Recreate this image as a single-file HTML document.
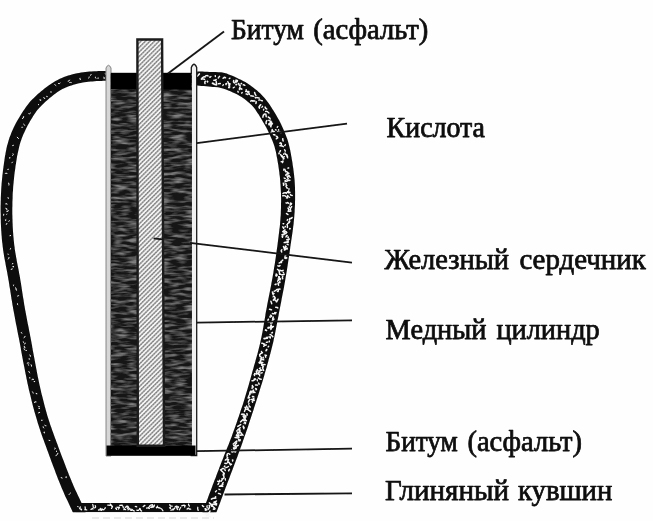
<!DOCTYPE html>
<html><head><meta charset="utf-8"><title>Багдадская батарейка</title>
<style>
html,body{margin:0;padding:0;background:#fff;}
body{width:653px;height:521px;overflow:hidden;}
svg{display:block;}
text{font-family:"Liberation Serif","DejaVu Serif",serif;font-size:28.8px;fill:#0a0a0a;stroke:#0a0a0a;stroke-width:0.75px;stroke-linejoin:round;}
</style></head>
<body>
<svg width="653" height="521" viewBox="0 0 653 521">
<defs>
<pattern id="dots" width="3.200" height="2.600" patternUnits="userSpaceOnUse" patternTransform="rotate(45)">
<rect width="3.200" height="2.600" fill="#f4f4f4"/>
<rect x="0" y="0" width="1.500" height="2.600" fill="#a4a4a4"/>
<rect x="0" y="0" width="1.500" height="1.300" fill="#7e7e7e"/>
</pattern>
<filter id="blur" x="-5%" y="-5%" width="110%" height="110%"><feGaussianBlur stdDeviation="0.55"/></filter>
<filter id="blurt" x="-5%" y="-20%" width="110%" height="140%"><feGaussianBlur stdDeviation="0.5"/></filter>
<filter id="blur2" x="-5%" y="-5%" width="110%" height="110%"><feGaussianBlur stdDeviation="0.7"/></filter>
<filter id="acidf" x="0" y="0" width="100%" height="100%" color-interpolation-filters="sRGB">
<feTurbulence type="fractalNoise" baseFrequency="0.07 0.33" numOctaves="2" seed="4" result="n"/>
<feColorMatrix in="n" type="matrix" values="0 0 0 0 0  0 0 0 0 0  0 0 0 0 0  2.6 0 0 0 -1.04" result="a"/>
<feFlood flood-color="#808080" result="f"/>
<feComposite in="f" in2="a" operator="in" result="streak"/>
<feGaussianBlur in="streak" stdDeviation="0.5" result="sb"/>
<feMerge><feMergeNode in="SourceGraphic"/><feMergeNode in="sb"/></feMerge>
</filter>
<clipPath id="jugclip"><rect x="0" y="0" width="653" height="512.200"/></clipPath>
</defs>
<rect width="653" height="521" fill="#fefefe"/>
<g filter="url(#blur)">
<!-- clay jug -->
<g clip-path="url(#jugclip)" fill="#0b0b0b">
<path d="M105.8,70.9 L104.6,70.9 L102.9,71.0 L100.9,71.1 L98.7,71.1 L96.3,71.2 L93.9,71.3 L91.6,71.5 L89.5,71.6 L87.4,71.8 L85.3,72.0 L83.2,72.3 L81.1,72.5 L79.0,72.9 L76.9,73.3 L74.8,73.7 L72.6,74.3 L70.4,74.9 L68.2,75.6 L66.1,76.3 L63.9,77.1 L61.8,77.9 L59.8,78.8 L57.6,79.9 L55.5,81.0 L53.5,82.2 L51.6,83.4 L49.7,84.7 L47.9,86.0 L46.2,87.2 L44.5,88.5 L42.8,89.9 L41.1,91.3 L39.5,92.7 L37.8,94.1 L36.3,95.6 L34.8,96.9 L33.5,98.2 L32.1,99.6 L30.6,101.1 L29.2,102.8 L27.7,104.7 L26.1,106.8 L25.0,108.4 L23.9,110.0 L22.7,111.8 L21.6,113.6 L20.4,115.6 L19.2,117.5 L18.0,119.5 L16.8,121.6 L15.7,123.6 L14.7,125.6 L13.7,127.6 L12.8,129.6 L11.9,131.5 L11.1,133.4 L10.4,135.4 L9.6,137.3 L8.9,139.4 L8.3,141.5 L7.7,143.7 L7.0,146.1 L6.4,148.7 L6.1,150.5 L5.7,152.3 L5.4,154.2 L5.0,156.1 L4.7,158.1 L4.4,160.2 L4.1,162.3 L3.8,164.4 L3.5,166.6 L3.2,168.7 L2.9,170.9 L2.7,173.0 L2.4,175.2 L2.2,177.3 L2.0,179.4 L1.8,181.5 L1.6,183.5 L1.5,185.5 L1.3,187.6 L1.2,189.6 L1.1,191.7 L1.0,193.7 L0.9,195.7 L0.8,197.8 L0.8,199.8 L0.7,201.9 L0.7,203.9 L0.6,205.9 L0.6,208.0 L0.6,210.0 L0.6,212.0 L0.7,214.1 L0.7,216.1 L0.7,218.1 L0.8,220.2 L0.8,222.2 L0.9,224.2 L1.0,226.3 L1.1,228.3 L1.2,230.4 L1.4,232.4 L1.5,234.4 L1.7,236.5 L1.8,238.5 L2.0,240.6 L2.2,242.6 L2.5,244.6 L2.7,246.7 L3.0,248.8 L3.2,250.8 L3.6,252.9 L3.9,255.0 L4.2,257.0 L4.6,259.0 L5.0,261.1 L5.4,263.1 L5.7,265.1 L6.1,267.1 L6.5,269.1 L6.9,271.1 L7.3,273.1 L7.6,275.1 L8.0,277.0 L8.3,279.0 L8.7,281.0 L9.0,282.9 L9.3,284.9 L9.6,286.9 L10.0,288.9 L10.3,290.9 L10.6,292.9 L10.9,294.9 L11.2,296.9 L11.5,298.9 L11.9,300.9 L12.2,302.9 L12.5,305.0 L12.9,307.0 L13.2,309.0 L13.6,311.0 L14.0,313.1 L14.4,315.2 L14.8,317.3 L15.2,319.5 L15.6,321.7 L16.0,323.9 L16.5,326.1 L16.9,328.3 L17.3,330.4 L17.7,332.5 L18.1,334.5 L18.5,336.4 L18.9,338.2 L19.2,340.0 L19.5,341.6 L19.8,343.1 L20.3,345.8 L20.7,347.8 L20.9,349.3 L21.1,350.6 L21.4,352.2 L21.8,354.3 L22.3,357.1 L22.6,358.6 L22.9,360.2 L23.2,362.0 L23.6,363.8 L24.0,365.7 L24.4,367.8 L24.8,369.8 L25.2,372.0 L25.6,374.1 L26.1,376.3 L26.5,378.5 L27.0,380.7 L27.4,382.9 L27.9,385.1 L28.4,387.2 L28.8,389.3 L29.3,391.3 L29.8,393.3 L30.3,395.3 L30.8,397.3 L31.3,399.4 L31.8,401.4 L32.3,403.4 L32.8,405.4 L33.3,407.4 L33.9,409.5 L34.4,411.5 L35.0,413.5 L35.6,415.6 L36.2,417.6 L36.8,419.6 L37.4,421.7 L38.0,423.7 L38.7,425.8 L39.3,427.8 L40.0,429.8 L40.7,431.9 L41.4,433.9 L42.1,435.9 L42.8,437.9 L43.6,440.0 L44.3,442.0 L45.0,444.0 L45.8,446.0 L46.5,448.0 L47.2,450.0 L48.0,452.0 L48.7,454.0 L49.4,455.9 L50.1,457.8 L50.8,459.8 L51.5,461.7 L52.3,463.7 L53.0,465.7 L53.7,467.6 L54.5,469.6 L55.2,471.6 L55.9,473.5 L56.7,475.4 L57.4,477.3 L58.1,479.2 L58.9,481.0 L59.6,482.8 L60.3,484.6 L61.0,486.3 L61.9,488.5 L62.8,490.6 L63.8,492.8 L64.7,494.9 L65.6,496.9 L66.6,498.9 L67.5,500.8 L68.3,502.6 L69.1,504.3 L69.9,506.0 L70.6,507.5 L71.2,508.8 L71.8,510.0 L73.2,513.3 L74.0,515.4 L74.5,516.9 L75.0,518.0 L86.0,514.0 L85.6,512.8 L85.0,511.2 L84.1,508.8 L82.6,505.4 L82.0,504.0 L81.3,502.5 L80.6,500.9 L79.8,499.3 L79.0,497.6 L78.1,495.8 L77.3,493.9 L76.4,491.9 L75.4,490.0 L74.5,487.9 L73.6,485.9 L72.7,483.8 L71.8,481.7 L71.2,480.1 L70.5,478.4 L69.8,476.7 L69.0,474.9 L68.3,473.1 L67.6,471.2 L66.8,469.3 L66.1,467.4 L65.4,465.5 L64.6,463.5 L63.9,461.6 L63.1,459.6 L62.4,457.7 L61.6,455.7 L60.9,453.8 L60.2,451.9 L59.5,450.0 L58.7,448.0 L58.0,446.0 L57.3,444.0 L56.5,442.0 L55.8,440.0 L55.0,438.0 L54.3,436.0 L53.6,434.1 L52.9,432.1 L52.1,430.1 L51.5,428.1 L50.8,426.2 L50.1,424.2 L49.5,422.2 L48.8,420.3 L48.2,418.3 L47.6,416.4 L47.0,414.4 L46.5,412.4 L45.9,410.5 L45.4,408.5 L44.8,406.5 L44.3,404.6 L43.8,402.6 L43.3,400.6 L42.8,398.6 L42.3,396.6 L41.8,394.7 L41.3,392.7 L40.9,390.7 L40.4,388.7 L40.0,386.7 L39.5,384.7 L39.1,382.7 L38.6,380.6 L38.2,378.4 L37.7,376.3 L37.3,374.1 L36.9,371.9 L36.5,369.8 L36.1,367.7 L35.7,365.6 L35.3,363.6 L35.0,361.7 L34.6,359.8 L34.3,358.1 L34.0,356.4 L33.7,354.9 L33.2,352.2 L32.8,350.2 L32.6,348.7 L32.3,347.4 L32.1,345.8 L31.7,343.7 L31.2,340.9 L30.9,339.4 L30.6,337.7 L30.2,336.0 L29.9,334.1 L29.5,332.2 L29.1,330.2 L28.7,328.1 L28.3,326.0 L27.8,323.8 L27.4,321.7 L27.0,319.5 L26.6,317.3 L26.2,315.2 L25.8,313.1 L25.4,311.0 L25.0,309.0 L24.7,307.0 L24.3,305.0 L24.0,303.0 L23.7,301.1 L23.4,299.1 L23.0,297.1 L22.7,295.1 L22.4,293.1 L22.1,291.1 L21.8,289.1 L21.5,287.1 L21.2,285.1 L20.9,283.1 L20.5,281.1 L20.2,279.0 L19.9,277.0 L19.5,275.0 L19.1,272.9 L18.8,270.9 L18.4,268.9 L18.0,266.9 L17.6,264.9 L17.2,262.9 L16.8,260.9 L16.5,258.9 L16.1,257.0 L15.8,255.0 L15.4,253.0 L15.1,251.1 L14.8,249.2 L14.6,247.2 L14.3,245.3 L14.1,243.4 L13.9,241.4 L13.7,239.4 L13.5,237.5 L13.3,235.5 L13.2,233.6 L13.0,231.6 L12.9,229.6 L12.8,227.7 L12.7,225.7 L12.6,223.8 L12.5,221.8 L12.5,219.8 L12.4,217.9 L12.4,215.9 L12.3,213.9 L12.3,212.0 L12.3,210.0 L12.3,208.0 L12.4,206.1 L12.4,204.1 L12.4,202.1 L12.5,200.2 L12.6,198.2 L12.6,196.3 L12.7,194.3 L12.8,192.3 L13.0,190.4 L13.1,188.4 L13.2,186.5 L13.4,184.5 L13.6,182.5 L13.8,180.6 L14.0,178.5 L14.2,176.5 L14.4,174.4 L14.7,172.3 L15.0,170.2 L15.3,168.2 L15.5,166.1 L15.9,164.0 L16.2,162.0 L16.5,160.1 L16.8,158.2 L17.1,156.3 L17.5,154.6 L17.8,152.9 L18.2,151.3 L18.7,148.9 L19.2,146.7 L19.7,144.7 L20.2,142.9 L20.8,141.2 L21.4,139.5 L22.0,137.8 L22.7,136.1 L23.4,134.3 L24.3,132.4 L25.1,130.7 L25.9,128.9 L26.9,127.0 L27.9,125.1 L29.0,123.2 L30.0,121.3 L31.1,119.5 L32.2,117.8 L33.2,116.1 L34.2,114.5 L35.1,113.2 L36.4,111.3 L37.6,109.7 L38.8,108.4 L39.9,107.2 L41.1,106.0 L42.3,104.8 L43.7,103.4 L45.1,102.1 L46.6,100.7 L48.1,99.4 L49.6,98.1 L51.1,96.9 L52.6,95.7 L54.1,94.6 L55.9,93.3 L57.5,92.1 L59.1,91.1 L60.7,90.1 L62.4,89.1 L64.2,88.2 L65.9,87.5 L67.6,86.7 L69.5,86.0 L71.4,85.4 L73.4,84.7 L75.3,84.2 L77.2,83.7 L79.0,83.2 L80.8,82.9 L82.7,82.5 L84.5,82.3 L86.4,82.0 L88.4,81.8 L90.5,81.6 L92.4,81.4 L94.5,81.3 L96.8,81.1 L99.1,81.0 L101.3,80.9 L103.3,80.8 L104.9,80.8 L106.2,80.7Z"/>
<path d="M196.4,85.5 L197.7,85.6 L199.4,85.8 L201.5,86.0 L203.8,86.1 L206.2,86.3 L208.6,86.5 L210.8,86.7 L212.8,86.9 L214.6,87.1 L217.8,87.3 L219.2,87.4 L220.8,87.9 L222.0,88.2 L223.6,88.7 L225.3,89.3 L227.1,90.0 L229.0,90.8 L230.9,91.6 L232.8,92.5 L234.7,93.3 L236.4,94.1 L238.1,95.0 L239.8,95.9 L241.6,97.0 L243.0,98.0 L244.5,99.1 L246.0,100.3 L247.5,101.5 L249.0,102.7 L250.4,104.0 L251.8,105.3 L253.1,106.7 L254.2,108.1 L255.3,109.6 L256.4,111.2 L257.5,112.9 L258.7,114.6 L259.8,116.4 L260.9,118.2 L261.9,120.0 L262.9,121.8 L264.0,123.6 L265.1,125.4 L266.0,127.1 L266.9,128.8 L267.8,130.5 L268.6,132.2 L269.5,134.0 L270.3,135.9 L271.1,137.8 L271.9,139.6 L272.6,141.3 L273.3,142.9 L273.9,144.7 L274.5,146.6 L275.1,148.9 L275.8,151.6 L276.1,153.0 L276.4,154.7 L276.7,156.4 L277.1,158.2 L277.4,160.1 L277.7,162.1 L278.1,164.1 L278.4,166.1 L278.7,168.2 L279.0,170.3 L279.3,172.4 L279.5,174.5 L279.8,176.6 L280.0,178.6 L280.2,180.6 L280.3,182.5 L280.5,184.5 L280.6,186.4 L280.7,188.3 L280.8,190.3 L280.9,192.2 L281.0,194.1 L281.0,196.1 L281.1,198.0 L281.1,199.9 L281.1,201.9 L281.0,203.8 L281.0,205.8 L281.0,207.7 L280.9,209.7 L280.8,211.7 L280.8,213.6 L280.7,215.5 L280.5,217.5 L280.4,219.4 L280.2,221.3 L280.1,223.3 L279.9,225.2 L279.7,227.2 L279.4,229.2 L279.2,231.1 L279.0,233.1 L278.7,235.1 L278.5,237.1 L278.2,239.1 L278.0,241.1 L277.7,243.1 L277.5,245.1 L277.2,247.1 L276.9,249.1 L276.6,251.1 L276.4,253.1 L276.1,255.1 L275.8,257.0 L275.5,259.0 L275.2,261.0 L274.9,263.0 L274.6,265.0 L274.2,267.0 L273.9,269.0 L273.6,270.9 L273.3,272.9 L272.9,274.9 L272.6,276.9 L272.2,278.9 L271.9,280.8 L271.5,282.8 L271.2,284.8 L270.8,286.8 L270.4,288.8 L270.0,290.8 L269.6,292.7 L269.2,294.7 L268.8,296.7 L268.4,298.7 L268.0,300.7 L267.6,302.7 L267.2,304.8 L266.9,306.8 L266.5,308.8 L266.1,310.8 L265.7,312.8 L265.4,314.8 L265.1,316.9 L264.7,318.9 L264.4,320.9 L264.0,322.9 L263.7,324.9 L263.4,326.8 L263.0,328.8 L262.7,330.8 L262.3,332.8 L261.9,334.7 L261.5,336.7 L261.1,338.6 L260.7,340.6 L260.3,342.6 L259.8,344.5 L259.3,346.5 L258.8,348.5 L258.3,350.4 L257.8,352.4 L257.3,354.4 L256.7,356.4 L256.2,358.3 L255.6,360.3 L255.1,362.3 L254.5,364.3 L253.9,366.3 L253.4,368.3 L252.8,370.3 L252.2,372.3 L251.7,374.3 L251.1,376.3 L250.6,378.3 L250.0,380.3 L249.4,382.3 L248.9,384.3 L248.3,386.3 L247.7,388.2 L247.1,390.2 L246.5,392.2 L245.9,394.2 L245.3,396.2 L244.7,398.2 L244.1,400.2 L243.5,402.2 L242.9,404.2 L242.2,406.2 L241.5,408.2 L240.8,410.3 L240.1,412.4 L239.4,414.5 L238.7,416.7 L237.9,418.8 L237.2,420.9 L236.5,422.9 L235.8,425.0 L235.1,427.0 L234.4,428.9 L233.7,430.8 L233.1,432.6 L232.4,434.3 L231.9,436.0 L231.0,438.3 L230.2,440.3 L229.5,442.1 L228.9,443.7 L228.3,445.2 L227.6,446.8 L226.9,448.5 L226.2,450.3 L225.4,452.3 L224.4,454.7 L223.8,456.3 L223.2,458.0 L222.5,459.8 L221.7,461.6 L221.0,463.6 L220.2,465.6 L219.4,467.6 L218.6,469.7 L217.8,471.8 L217.0,473.8 L216.2,475.9 L215.5,477.9 L214.7,479.8 L214.0,481.7 L213.3,483.5 L212.7,485.1 L212.1,486.7 L211.1,489.4 L210.1,491.9 L209.2,494.2 L208.4,496.4 L207.7,498.4 L207.0,500.3 L206.3,502.0 L205.7,503.7 L205.2,505.2 L204.0,508.2 L203.1,510.6 L202.5,512.4 L202.0,513.7 L214.2,518.3 L214.7,517.0 L215.4,515.2 L216.3,512.8 L217.4,509.8 L218.0,508.2 L218.6,506.6 L219.3,504.8 L220.0,503.0 L220.7,501.0 L221.5,498.8 L222.4,496.5 L223.3,494.0 L224.3,491.3 L224.9,489.8 L225.5,488.1 L226.2,486.3 L226.9,484.4 L227.6,482.5 L228.4,480.5 L229.2,478.5 L229.9,476.4 L230.7,474.3 L231.5,472.2 L232.3,470.2 L233.0,468.2 L233.8,466.2 L234.5,464.3 L235.2,462.5 L235.8,460.8 L236.4,459.3 L237.3,456.9 L238.0,454.9 L238.7,453.0 L239.3,451.4 L239.9,449.8 L240.5,448.1 L241.1,446.4 L241.8,444.6 L242.5,442.4 L243.3,440.0 L243.9,438.4 L244.5,436.6 L245.2,434.8 L245.8,432.9 L246.5,430.9 L247.2,428.9 L247.9,426.9 L248.6,424.8 L249.3,422.6 L250.0,420.5 L250.7,418.3 L251.4,416.2 L252.1,414.1 L252.8,411.9 L253.5,409.9 L254.1,407.8 L254.8,405.8 L255.4,403.8 L256.1,401.8 L256.7,399.8 L257.4,397.8 L258.0,395.8 L258.7,393.8 L259.3,391.8 L259.9,389.7 L260.5,387.7 L261.1,385.7 L261.8,383.7 L262.4,381.7 L263.0,379.7 L263.6,377.7 L264.2,375.7 L264.7,373.7 L265.3,371.7 L265.9,369.7 L266.5,367.7 L267.0,365.7 L267.6,363.7 L268.2,361.7 L268.7,359.6 L269.3,357.6 L269.8,355.6 L270.4,353.6 L270.9,351.5 L271.4,349.5 L271.9,347.5 L272.4,345.4 L272.9,343.4 L273.4,341.4 L273.8,339.3 L274.3,337.3 L274.7,335.2 L275.1,333.2 L275.5,331.2 L275.9,329.2 L276.3,327.1 L276.7,325.1 L277.1,323.1 L277.4,321.1 L277.8,319.1 L278.2,317.2 L278.6,315.2 L278.9,313.2 L279.3,311.2 L279.7,309.2 L280.1,307.2 L280.5,305.3 L280.9,303.3 L281.3,301.3 L281.6,299.3 L282.0,297.3 L282.4,295.3 L282.8,293.2 L283.2,291.2 L283.6,289.2 L284.0,287.2 L284.3,285.2 L284.7,283.2 L285.1,281.1 L285.4,279.1 L285.7,277.1 L286.1,275.1 L286.4,273.1 L286.8,271.0 L287.1,269.0 L287.4,267.0 L287.7,265.0 L288.0,263.0 L288.3,261.0 L288.6,259.0 L288.9,256.9 L289.2,254.9 L289.5,252.9 L289.8,250.9 L290.1,248.9 L290.3,246.9 L290.6,244.9 L290.9,242.9 L291.2,240.9 L291.5,238.9 L291.8,236.9 L292.1,234.9 L292.4,232.9 L292.7,230.8 L293.0,228.8 L293.2,226.8 L293.5,224.7 L293.7,222.7 L293.9,220.6 L294.1,218.5 L294.3,216.5 L294.4,214.4 L294.6,212.3 L294.7,210.3 L294.8,208.3 L294.9,206.2 L295.0,204.2 L295.0,202.1 L295.1,200.1 L295.1,198.0 L295.1,195.9 L295.1,193.9 L295.1,191.8 L295.0,189.7 L295.0,187.7 L294.9,185.6 L294.8,183.5 L294.7,181.5 L294.5,179.3 L294.3,177.2 L294.1,175.0 L293.8,172.8 L293.5,170.6 L293.3,168.4 L292.9,166.2 L292.6,164.0 L292.3,161.8 L291.9,159.7 L291.6,157.7 L291.2,155.7 L290.9,153.7 L290.5,151.9 L290.2,150.1 L289.8,148.4 L289.1,145.4 L288.4,142.7 L287.7,140.2 L286.9,137.9 L286.1,135.9 L285.3,133.9 L284.5,132.1 L283.7,130.1 L282.8,128.1 L281.9,126.0 L281.0,124.0 L280.0,122.1 L279.0,120.1 L277.9,118.2 L276.8,116.2 L275.7,114.2 L274.6,112.4 L273.4,110.6 L272.2,108.7 L271.0,106.7 L269.7,104.8 L268.3,102.8 L266.9,100.9 L265.4,99.0 L263.9,97.3 L262.2,95.4 L260.4,93.6 L258.6,91.9 L256.8,90.3 L255.0,88.9 L253.2,87.5 L251.5,86.2 L249.8,85.0 L247.6,83.4 L245.3,82.1 L243.1,80.9 L241.0,79.8 L239.0,78.9 L237.1,78.0 L235.1,77.0 L233.0,76.1 L230.9,75.2 L228.8,74.4 L226.7,73.6 L224.6,72.9 L221.3,72.3 L218.6,72.2 L215.4,72.1 L213.8,72.1 L211.8,72.0 L209.5,71.9 L207.1,71.8 L204.6,71.7 L202.3,71.6 L200.2,71.6 L198.5,71.5 L197.2,71.5Z"/>
<rect x="76" y="503" width="138" height="9.200"/>
</g>
<g fill="none" stroke="#f6f6f6" stroke-linecap="round">
<path d="M105.4,73.7Q105.9,74.2 106.5,74.9M103.8,77.0Q104.7,76.6 104.2,78.7M98.5,78.0Q97.5,77.4 97.1,78.3M95.4,76.8Q94.8,76.7 95.5,78.0M91.1,74.4Q90.0,76.3 90.6,75.7M89.5,76.8Q90.1,77.2 88.5,78.1M79.9,78.2Q79.3,79.1 80.4,79.8M71.3,82.5Q70.7,82.2 69.7,82.5M69.6,80.1Q68.9,81.7 68.1,81.4M60.2,83.0Q60.0,84.1 58.5,83.6M54.8,84.7Q55.4,85.1 55.9,85.5M51.1,91.6Q52.0,92.7 50.9,92.4M47.2,96.3Q46.3,95.5 46.8,96.8M43.6,97.7Q43.6,98.6 44.8,98.4M39.9,99.6Q39.4,101.0 40.9,100.3M38.7,104.3Q37.5,105.1 38.2,104.9M30.5,113.1Q29.1,114.5 28.7,113.9M23.9,116.8Q24.8,117.1 23.3,117.1M23.7,117.1Q23.1,117.6 22.5,118.7M23.8,124.1Q24.3,124.3 24.7,125.3M22.9,127.2Q23.1,126.8 21.8,127.2M17.2,137.2Q18.6,138.1 18.6,138.4M12.7,145.3Q12.0,146.3 13.4,145.4M13.1,153.7Q14.0,154.5 12.7,155.5M9.4,157.8Q10.7,156.8 10.0,158.1M12.5,162.1Q11.2,163.5 11.9,162.8M7.8,169.3Q9.4,168.8 8.5,169.4M7.0,173.3Q5.0,172.7 5.0,173.5M8.7,183.1Q9.3,184.5 9.0,185.1M8.3,197.7Q7.1,197.0 8.2,198.4M5.7,203.8Q7.7,203.2 7.3,204.2M5.8,208.2Q7.4,208.1 7.0,209.8M8.4,210.5Q8.7,211.9 6.8,211.5M7.2,213.7Q7.3,213.4 6.7,214.3M3.8,214.2Q3.8,216.0 3.6,215.9M5.9,219.4Q4.6,219.6 5.6,220.6M9.4,220.7Q8.7,220.7 8.5,221.2M6.9,223.4Q6.4,224.5 6.3,224.6M10.7,235.5Q9.2,236.5 9.5,236.0M10.5,248.3Q11.1,247.6 10.3,249.2M8.6,254.2Q9.1,254.6 7.9,254.2M9.1,257.5Q9.2,258.2 8.3,259.1M12.9,263.7Q13.7,262.8 12.2,263.9M13.6,266.4Q12.0,266.0 13.0,267.1M12.3,268.8Q10.9,268.6 11.1,269.5M13.7,285.0Q13.5,286.5 13.1,285.6M15.3,287.4Q15.7,287.6 16.1,288.6M16.0,289.4Q16.1,290.7 16.7,290.4M19.0,295.5Q19.2,295.8 17.6,296.1M17.3,303.5Q16.3,303.8 17.8,304.7M21.6,332.1Q20.5,332.7 21.7,333.4M25.1,336.3Q24.3,337.6 24.0,337.9M23.3,341.8Q23.6,343.0 23.8,343.0M25.5,343.2Q24.3,344.0 24.2,344.1M24.2,346.3Q23.9,348.3 25.1,347.9M24.0,348.8Q24.2,350.1 24.8,350.0M26.6,350.5Q26.1,351.6 25.8,350.6M29.8,354.9Q30.8,354.9 30.5,356.3M28.6,358.8Q28.4,357.9 29.8,359.2M29.0,362.9Q28.4,362.5 27.2,363.1M28.4,364.5Q28.5,364.6 28.6,365.2M31.3,364.5Q31.6,364.6 31.5,366.2M28.8,371.5Q29.0,372.5 29.8,373.0M29.5,377.7Q30.2,376.7 30.0,378.0M33.6,379.3Q31.6,378.4 31.9,379.8M33.9,381.4Q33.1,381.8 34.7,381.6M32.5,391.8Q33.1,392.6 33.2,393.1M36.1,393.3Q37.6,393.4 37.1,394.0M36.1,401.8Q34.2,401.1 34.5,402.6M38.2,406.2Q38.5,407.0 39.3,406.7M39.6,408.2Q38.2,407.2 39.0,408.6M39.7,412.3Q38.4,412.5 38.1,413.1M42.6,420.2Q42.5,421.1 41.4,420.3M44.7,425.4Q45.0,425.8 46.0,425.8M42.9,426.7Q42.7,427.0 43.7,428.0M44.1,432.0Q43.3,433.7 44.7,432.9M50.4,440.4Q50.4,440.9 49.0,440.4M55.1,447.6Q56.0,447.6 54.8,449.1M55.9,450.7Q55.3,450.6 56.8,451.7M57.9,453.2Q56.7,454.9 57.1,454.8M56.8,454.8Q55.7,456.6 55.7,456.2M61.1,477.5Q61.1,478.3 62.1,478.2M66.6,476.9Q66.8,478.3 65.6,477.3M70.4,493.0Q69.9,493.4 69.1,494.5M77.2,506.7Q76.9,506.1 78.3,506.7" stroke-width="1"/>
<path d="M199.4,73.9Q198.7,74.6 197.2,76.3M202.6,77.4Q203.2,79.4 201.3,79.0M203.7,76.9Q204.2,76.5 205.0,77.0M205.5,81.2Q204.5,81.2 205.0,83.6M208.0,75.9Q207.3,75.1 205.6,75.9M212.4,83.1Q214.6,84.5 215.5,84.8M216.1,79.6Q215.0,80.7 213.8,80.2M216.2,81.6Q216.6,84.3 216.6,84.9M219.5,76.4Q218.1,78.2 218.4,78.0M220.3,83.6Q219.9,83.7 218.4,83.8M225.5,77.7Q224.6,76.9 223.1,78.2M226.6,83.5Q225.7,83.3 226.0,84.6M227.8,81.7Q228.2,83.8 230.2,84.0M229.0,84.4Q228.4,85.4 229.6,85.5M229.8,86.9Q228.1,86.7 229.0,87.8M233.7,80.4Q233.0,83.0 234.7,83.0M236.1,80.0Q236.4,79.9 235.4,81.9M237.5,80.5Q237.3,82.3 235.8,82.1M238.7,83.4Q238.5,84.5 240.3,85.8M239.9,87.3Q238.9,89.6 239.8,89.5M239.6,89.0Q240.8,88.1 241.8,89.1M243.3,84.8Q244.4,85.1 244.8,85.3M246.2,89.7Q246.3,91.4 245.7,91.5M246.4,91.5Q246.4,91.3 248.9,91.6M246.1,94.0Q246.1,93.6 247.7,94.5M248.1,92.5Q249.1,92.7 249.4,94.4M250.8,95.8Q251.9,96.0 253.4,96.2M254.6,92.5Q255.3,95.0 255.9,95.3M250.7,101.1Q252.3,100.1 252.8,101.2M252.0,100.8Q253.3,100.7 254.8,101.0M256.7,97.5Q257.4,97.4 259.3,98.1M256.3,101.8Q255.9,102.6 255.9,103.5M260.9,100.4Q262.5,101.0 262.3,100.8M260.8,104.7Q259.8,105.5 258.9,107.1M259.5,106.5Q259.4,108.6 259.4,108.3M265.1,107.1Q265.7,108.5 266.7,108.9M265.7,111.4Q267.1,111.1 268.9,113.0M264.5,114.0Q262.8,115.0 262.9,117.2M265.7,114.0Q266.0,114.4 266.2,116.8M268.2,117.0Q270.2,118.0 270.2,119.1M266.9,120.6Q265.7,122.0 266.2,123.6M268.8,120.4Q270.2,121.2 271.6,122.2M270.9,121.3Q269.8,123.9 268.8,124.1M271.1,122.8Q271.0,123.0 269.1,124.7M272.4,123.6Q270.4,125.1 270.9,126.8M272.2,129.4Q272.8,131.8 271.2,132.2M271.9,130.3Q273.8,131.5 274.4,132.1M274.0,131.4Q273.5,131.5 273.4,132.8M277.7,131.6Q278.1,131.9 281.1,132.4M276.4,136.4Q277.1,135.9 277.8,137.9M277.4,137.7Q277.6,138.0 276.3,138.8M282.9,138.8Q282.5,138.6 283.1,140.9M280.7,142.9Q281.9,143.4 281.1,145.0M279.9,145.8Q282.4,145.7 283.2,146.6M280.4,150.7Q279.8,151.5 279.8,152.0M285.0,153.0Q285.3,154.9 286.8,154.5M280.7,154.6Q280.6,154.5 281.6,156.5M286.1,154.6Q287.8,156.6 287.5,156.4M282.1,155.7Q281.9,156.5 283.9,158.6M282.4,157.2Q283.6,157.5 283.3,159.1M283.0,161.0Q283.2,161.4 281.2,161.7M284.7,169.3Q285.0,169.7 285.8,171.8M285.3,171.6Q287.9,171.6 288.1,173.5M288.9,173.2Q288.9,174.2 287.0,173.8M287.2,174.3Q286.1,174.2 285.7,175.2M287.0,176.2Q287.7,175.9 290.2,177.2M287.4,177.0Q287.2,177.2 288.2,178.6M286.9,179.6Q287.5,180.8 289.9,180.2M285.1,180.4Q285.9,180.8 285.0,181.9M283.3,183.2Q283.7,183.8 283.5,185.3M287.5,191.8Q287.7,193.3 290.0,192.2M285.7,192.7Q283.3,192.6 283.0,193.5M290.5,194.4Q290.4,195.4 292.2,195.5M282.8,195.8Q285.2,195.4 285.5,196.2M287.6,196.2Q286.4,196.2 287.6,197.8M287.4,202.7Q287.1,202.3 288.8,203.3M290.7,203.1Q291.2,205.1 289.9,205.0M291.7,206.7Q290.3,207.8 290.4,209.6M288.0,208.0Q289.2,209.8 288.7,210.1M291.0,211.0Q288.8,211.6 288.0,211.1M286.5,213.5Q287.4,214.4 287.9,214.5M292.1,217.5Q291.7,218.5 289.6,219.1M289.9,218.5Q289.7,218.4 289.3,219.9M289.2,222.7Q289.0,222.6 287.7,223.6M287.0,224.6Q287.6,225.1 287.4,227.5M282.8,226.9Q283.3,227.3 283.6,228.4M285.0,229.8Q283.8,230.6 282.8,231.6M285.3,231.5Q285.9,231.2 286.8,232.5M284.3,232.4Q285.4,233.9 286.0,233.4M286.0,233.4Q285.2,233.4 283.4,234.4M282.0,234.6Q283.9,233.9 283.9,234.7M287.2,235.5Q286.2,236.0 286.0,236.9M282.8,236.1Q281.7,235.8 282.5,237.3M289.3,239.1Q288.4,239.4 286.8,239.8M287.6,241.8Q285.1,242.7 284.2,242.6M286.1,246.7Q284.9,247.6 285.5,247.9M283.5,246.4Q284.0,247.8 284.7,249.7M286.5,248.6Q284.4,250.4 284.4,249.9M281.8,249.7Q280.7,250.8 281.7,251.9M284.7,257.0Q284.8,257.0 286.8,258.0M281.5,261.3Q281.0,261.0 280.8,262.5M281.5,262.6Q279.9,262.4 279.2,263.0M280.0,265.5Q279.3,266.5 277.9,265.9M279.9,270.1Q281.9,271.5 283.1,270.2M279.3,271.6Q279.3,273.7 279.8,274.3M284.2,274.4Q283.8,275.0 281.6,274.7M276.2,274.1Q277.4,275.5 277.1,275.0M276.7,274.8Q275.3,274.8 276.2,276.2M282.7,276.5Q282.1,278.0 282.7,278.7M278.5,276.8Q280.0,277.0 279.2,279.2M280.2,279.0Q279.3,279.1 278.1,279.1M280.5,279.1Q279.5,279.2 277.7,281.1M279.7,281.7Q280.6,282.5 279.0,282.7M278.1,283.0Q277.7,283.3 278.6,285.2M280.0,289.1Q278.5,289.4 276.8,289.4M276.0,290.2Q275.0,291.1 274.2,291.2M272.4,291.9Q272.8,294.4 273.2,294.8M274.4,296.5Q275.7,299.1 274.7,299.2M275.1,297.6Q273.9,299.6 273.3,300.1M278.0,299.2Q277.1,300.5 276.7,301.7M270.9,301.2Q271.7,303.2 271.7,303.7M275.7,307.2Q277.9,307.3 277.8,308.0M269.5,309.3Q270.8,309.3 271.5,309.8M274.8,312.5Q275.4,313.1 276.0,312.6M274.7,312.9Q274.8,314.2 272.4,313.6M270.5,315.2Q271.9,316.0 271.5,316.5M273.3,317.1Q272.3,319.2 272.7,319.4M273.9,319.1Q272.2,320.5 271.9,321.5M268.4,319.2Q267.5,320.3 268.3,321.9M271.0,321.7Q272.2,323.3 272.3,322.6M270.6,326.4Q270.9,327.1 273.4,326.4M272.9,326.9Q270.7,328.4 271.1,327.9M268.1,327.5Q270.3,327.1 270.2,328.3M265.4,330.1Q265.9,329.3 266.6,330.7M270.1,334.6Q271.3,334.7 272.8,336.7M269.6,336.9Q270.6,336.5 270.2,338.0M268.0,337.0Q267.3,338.7 265.8,338.6M264.1,338.2Q263.7,339.1 265.3,338.6M261.9,343.3Q263.3,342.9 264.3,345.0M266.3,345.0Q265.6,344.7 263.7,346.3M266.5,349.5Q267.4,349.1 266.0,350.7M261.5,351.4Q262.1,353.1 262.4,352.7M261.9,353.0Q260.2,353.4 259.9,354.7M265.1,355.0Q265.8,357.0 265.7,357.2M259.7,354.6Q259.6,357.0 261.0,357.0M261.1,357.1Q262.1,357.4 261.7,359.2M260.4,358.9Q262.9,360.0 263.7,359.8M261.8,359.1Q261.1,359.7 260.2,361.2M260.8,362.1Q261.1,362.0 262.8,362.8M259.8,362.1Q261.0,362.8 261.9,364.3M265.0,364.6Q264.1,364.1 261.6,365.3M263.0,365.1Q261.9,365.8 263.4,366.9M262.5,367.6Q262.6,368.2 263.6,370.5M260.4,369.0Q261.1,370.4 261.8,370.2M260.9,369.7Q260.5,371.5 258.8,370.8M257.3,369.6Q257.2,370.7 256.9,371.5M262.1,372.7Q262.5,372.7 260.9,373.0M256.2,371.2Q256.7,371.5 256.4,373.6M257.7,373.4Q256.0,374.7 254.7,373.5M258.4,378.0Q259.8,379.3 261.2,379.3M254.9,378.7Q255.8,379.4 254.6,379.9M254.3,379.0Q254.2,381.0 252.0,380.8M255.5,385.0Q256.8,384.8 257.4,385.1M252.4,385.4Q252.2,387.3 253.2,386.8M255.6,388.5Q257.1,389.0 256.1,389.7M253.3,391.1Q253.8,392.3 255.0,392.5M252.0,391.2Q250.7,392.8 251.1,392.9M250.9,391.1Q249.2,392.4 250.0,394.5M249.3,394.9Q248.9,395.4 248.1,398.0M254.0,398.1Q253.4,399.8 251.4,399.5M252.5,400.0Q253.6,401.2 254.3,400.1M249.8,399.6Q248.9,400.2 248.4,402.1M249.1,405.8Q249.0,406.8 250.4,407.0M246.2,407.1Q245.8,407.6 245.0,407.3M245.1,407.6Q245.5,409.3 247.8,409.6M248.5,410.0Q248.7,410.1 250.5,411.4M245.6,409.2Q244.5,411.1 244.5,411.5M246.9,413.7Q247.4,414.7 247.0,415.1M244.2,414.2Q242.6,414.6 241.5,414.2M243.9,415.1Q245.3,415.1 246.0,417.0M243.2,416.4Q243.4,416.6 245.2,417.5M245.3,419.0Q244.9,420.0 246.4,420.6M245.4,420.4Q243.6,419.6 244.2,420.8M243.0,419.5Q241.0,421.6 240.5,421.9M245.5,422.4Q245.6,423.4 245.2,423.8M240.7,424.6Q238.2,426.1 237.8,426.4M240.2,427.7Q238.5,429.3 237.9,429.7M238.6,429.8Q238.2,430.2 239.9,429.8M240.0,431.1Q240.0,432.6 237.7,432.4M240.9,432.6Q242.6,434.8 243.0,435.2M241.9,434.0Q241.8,435.8 239.9,435.0M237.4,432.9Q238.2,433.8 238.6,436.0M237.5,435.3Q239.1,436.3 239.0,437.6M237.4,435.6Q237.5,437.5 235.7,437.8M235.1,437.4Q237.1,437.8 238.3,438.0M240.1,439.4Q240.5,441.3 238.8,440.7M235.7,441.8Q233.9,443.4 233.3,444.1M236.5,443.1Q234.8,444.8 235.0,445.7M238.3,445.4Q236.2,446.5 235.3,446.2M233.7,445.7Q234.5,446.1 235.7,446.2M234.9,447.6Q234.8,448.8 235.9,448.4M233.5,447.9Q234.8,450.3 233.6,450.4M234.3,449.0Q233.8,451.0 233.2,451.2M231.7,450.0Q232.2,451.2 234.4,451.7M231.6,451.1Q231.7,452.3 232.8,451.9M228.3,453.4Q226.6,453.9 227.3,455.8M227.7,457.8Q226.7,457.5 227.2,459.4M228.6,459.5Q227.9,460.4 227.7,462.3M228.9,462.2Q230.3,464.0 230.4,465.0M224.9,463.2Q226.8,463.8 226.9,463.2M228.4,466.5Q226.6,467.7 225.9,467.6M229.4,469.4Q228.3,471.3 228.7,470.8M223.8,468.7Q222.4,467.9 221.8,469.2M220.6,469.7Q221.7,471.0 222.8,472.0M223.8,472.7Q223.6,473.7 223.1,475.1M224.3,473.6Q223.2,475.1 224.1,477.2M223.9,477.9Q222.3,479.5 221.9,478.9M222.1,479.1Q222.6,479.4 221.1,481.3M217.7,481.2Q219.4,482.5 219.5,481.3M222.6,484.8Q220.9,485.2 220.3,486.3M219.4,486.3Q219.8,485.6 222.7,486.4M218.5,493.4Q219.0,493.2 220.5,494.2M215.6,496.8Q214.8,497.5 215.8,498.1M214.5,498.3Q212.8,498.0 211.4,499.1M216.5,501.1Q216.5,501.4 213.9,502.3M214.3,502.0Q216.1,503.0 215.8,503.2M216.6,503.8Q215.4,504.7 215.0,504.0M213.1,504.1Q214.8,504.5 216.5,504.9M209.4,502.8Q210.1,503.8 211.9,504.9M210.5,503.6Q212.4,504.8 212.0,506.3M211.3,505.6Q213.4,506.5 213.4,506.9M214.2,507.6Q214.3,508.9 213.4,509.3M209.6,507.0Q208.9,509.1 208.1,509.4M210.0,511.0Q209.9,511.8 208.3,513.6M208.3,513.4Q208.9,515.0 208.2,514.6M205.1,513.9Q206.1,513.5 206.8,513.9M209.0,514.6Q207.2,515.4 206.3,515.9" stroke-width="1.500"/>
<path d="M202.2,77.9Q203.0,77.5 201.6,79.1M203.7,79.3Q203.5,78.7 204.7,79.3M207.8,81.5Q206.7,80.5 207.6,82.1M211.0,76.4Q209.8,77.9 209.7,77.0M213.6,83.5Q214.1,83.0 212.5,83.6M215.1,76.0Q215.5,75.0 215.4,76.5M223.1,85.1Q223.8,84.0 222.8,85.5M230.0,78.2Q228.9,78.9 229.4,78.3M234.5,87.1Q232.7,88.5 233.4,87.6M236.9,84.1Q236.0,85.4 235.9,84.4M241.2,83.5Q242.3,82.9 240.9,84.0M238.0,91.2Q237.5,91.9 238.3,92.2M241.8,92.7Q242.7,92.0 241.8,93.2M248.7,92.1Q247.9,92.1 248.1,92.4M255.1,97.1Q256.5,98.6 255.3,97.7M259.8,99.6Q258.9,100.6 258.7,100.1M262.6,106.2Q261.7,107.8 261.9,107.1M263.8,109.2Q263.5,110.4 263.4,109.9M269.3,123.5Q269.8,124.7 269.4,124.8M271.0,125.3Q270.5,126.0 270.5,126.2M277.8,126.5Q276.9,127.3 277.4,127.3M275.6,129.9Q275.0,129.5 276.3,130.0M278.6,129.6Q278.4,130.2 278.7,130.2M273.6,134.2Q273.1,134.2 273.7,134.7M274.2,135.0Q274.9,134.0 275.1,135.1M280.6,143.0Q281.3,143.4 279.6,143.1M285.4,144.7Q284.3,145.5 285.0,145.7M284.5,149.8Q286.0,151.5 285.0,151.0M279.0,152.8Q278.7,154.5 279.3,153.7M284.0,153.8Q283.7,153.6 283.7,154.4M284.2,156.9Q284.6,156.3 283.5,157.1M286.9,156.8Q287.6,157.3 287.7,157.9M282.8,161.9Q282.3,161.8 282.7,162.7M288.6,167.8Q289.1,168.1 287.7,168.1M283.8,169.2Q284.2,170.0 283.6,170.1M288.1,175.5Q289.6,176.1 289.3,175.7M284.1,177.9Q284.6,178.3 285.3,178.4M286.1,180.9Q286.0,181.9 287.3,181.2M286.4,184.1Q286.2,183.0 285.0,184.1M286.9,185.5Q285.5,185.5 286.1,186.6M286.5,187.8Q287.2,186.9 287.3,188.3M288.7,188.9Q289.1,189.6 289.2,189.0M288.7,190.6Q288.5,192.1 288.4,191.4M286.5,192.7Q286.3,194.1 286.2,193.3M287.9,195.7Q287.7,195.1 287.4,196.3M288.7,196.7Q289.7,197.4 289.7,197.3M286.4,197.9Q286.9,197.3 286.9,198.1M285.9,202.8Q287.3,203.4 286.4,203.1M291.5,203.5Q292.0,203.1 290.9,204.7M289.1,206.6Q289.0,206.1 289.5,207.5M290.7,218.3Q292.1,218.2 291.4,218.3M287.6,219.4Q287.2,219.9 287.2,220.6M289.7,221.0Q289.5,222.2 289.9,221.6M288.6,222.0Q288.4,221.5 289.2,222.4M283.8,223.6Q283.9,224.1 283.0,223.7M285.3,226.5Q285.7,226.0 284.9,227.2M289.6,228.4Q289.7,229.7 290.3,228.5M283.5,231.5Q283.4,232.2 284.5,232.1M288.3,236.9Q287.3,237.6 288.6,238.0M287.8,240.8Q288.9,240.3 287.8,242.1M287.4,242.4Q287.1,242.2 288.2,242.5M287.0,244.1Q287.6,244.2 288.2,244.8M285.3,245.9Q286.4,246.4 285.2,246.5M287.1,248.0Q287.4,248.2 287.2,249.0M285.1,255.3Q286.2,256.2 285.8,255.5M285.1,257.4Q285.2,257.7 285.8,257.5M284.9,258.4Q284.6,257.9 286.0,258.6M282.8,259.8Q282.6,261.1 282.2,260.4M277.7,269.5Q276.9,268.8 278.4,269.8M278.5,270.7Q279.6,270.9 279.3,270.9M283.2,272.3Q284.2,273.7 283.4,272.8M280.0,273.7Q278.9,274.3 280.4,274.4M279.2,276.7Q278.8,278.1 278.8,277.2M280.1,278.6Q280.0,279.1 280.2,279.9M275.0,284.5Q276.7,283.4 275.9,284.6M278.5,290.0Q278.1,291.0 278.4,290.6M278.1,291.2Q278.6,292.1 277.3,291.2M273.1,293.5Q272.7,292.5 274.1,293.6M273.5,296.2Q274.2,296.9 273.0,296.9M274.3,299.7Q274.5,299.5 275.2,300.3M276.0,300.8Q276.6,301.0 276.1,301.7M275.3,313.3Q275.6,314.2 275.6,313.8M270.2,316.5Q270.5,317.9 269.8,316.9M269.9,322.5Q271.7,323.1 270.9,323.4M271.1,324.8Q272.0,326.2 270.8,325.4M268.6,327.4Q268.0,328.8 268.0,328.1M271.0,328.9Q271.9,328.4 270.7,329.6M272.4,332.3Q272.9,333.2 271.5,332.8M266.4,337.5Q265.7,336.8 267.5,338.2M269.3,341.0Q269.6,342.1 268.9,341.9M267.5,341.9Q266.4,342.9 266.3,342.1M264.8,344.0Q263.8,343.8 264.8,345.2M268.7,346.2Q267.6,347.2 268.5,346.8M266.1,355.1Q266.0,355.2 266.5,355.5M263.3,357.2Q262.5,357.9 263.7,358.1M259.2,362.4Q258.5,362.8 259.9,363.3M260.3,367.8Q260.1,367.7 259.4,368.5M259.5,371.9Q258.2,371.6 259.1,372.5M258.7,372.4Q258.3,374.2 258.5,373.8M258.5,374.3Q259.8,373.9 259.8,374.3M259.4,375.0Q259.6,374.3 259.7,375.9M254.5,374.6Q253.5,374.5 254.6,375.5M257.1,379.4Q257.5,381.1 257.3,380.6M258.5,383.0Q259.7,384.5 258.9,384.2M252.6,388.0Q253.5,387.3 251.7,388.1M253.7,390.2Q252.6,389.7 253.3,390.9M254.1,392.4Q252.7,391.4 252.9,392.9M253.8,396.7Q251.9,396.0 252.5,396.9M249.7,397.5Q248.5,397.8 249.1,398.0M252.2,401.4Q252.0,401.8 252.6,402.4M248.8,403.6Q249.3,403.0 248.7,404.3M246.6,406.0Q246.9,407.2 246.6,406.9M247.8,407.7Q247.5,406.7 248.0,408.2M248.4,408.9Q247.5,409.1 247.3,409.2M242.9,413.9Q243.5,414.3 243.0,414.5M243.6,417.8Q243.8,418.1 244.7,418.3M243.8,420.3Q243.6,419.4 244.3,420.4M244.8,422.3Q243.8,423.6 244.0,423.2M243.0,426.2Q244.2,426.0 243.2,427.5M244.2,427.7Q242.8,427.1 244.0,428.8M239.7,430.7Q239.8,431.2 239.3,431.2M236.6,431.0Q237.4,430.0 237.2,431.2M240.1,432.9Q240.2,431.9 239.1,433.2M236.7,434.7Q235.6,435.7 237.1,435.3M239.3,439.8Q238.2,438.8 238.6,439.9M237.1,441.1Q236.0,440.7 236.6,442.1M235.9,446.8Q236.9,447.4 235.8,447.8M235.2,451.4Q236.4,451.1 235.5,452.1M229.1,453.8Q229.9,454.8 229.9,454.1M227.4,455.4Q227.8,455.2 227.0,456.2M232.3,460.0Q233.4,459.4 232.6,461.1M226.4,459.8Q225.8,459.0 225.2,460.2M231.0,463.8Q230.3,464.2 231.6,464.6M224.8,465.9Q223.7,467.4 224.8,466.5M225.0,469.1Q224.4,469.8 225.3,470.5M225.3,478.7Q225.3,480.4 225.5,480.0M219.5,480.2Q220.2,480.8 219.5,480.9M223.2,482.5Q221.8,484.2 222.5,483.3M222.7,483.7Q223.1,484.9 222.8,484.2M218.8,483.2Q218.1,483.1 218.6,483.8M218.4,484.1Q217.8,484.6 218.0,484.5M218.8,489.2Q219.2,489.2 220.0,489.7M216.5,490.7Q214.8,492.3 215.8,491.6M212.7,504.4Q213.2,505.4 212.3,504.7M211.4,505.0Q211.1,506.4 212.3,505.4M209.1,505.4Q209.6,505.2 209.4,506.4M214.9,508.3Q215.4,508.8 214.6,509.3M209.2,516.4Q208.6,515.4 210.3,516.9" stroke-width="1.300"/>
<path d="M80.3,507.0Q80.3,506.7 79.7,508.7M80.1,508.9Q82.0,509.3 81.3,509.9M85.1,506.9Q85.6,508.8 84.9,509.8M85.3,508.1Q84.8,509.9 86.7,509.9M93.0,509.0Q93.0,508.2 91.0,509.4M92.7,504.5Q93.3,505.6 93.3,507.6M95.3,505.7Q96.1,507.3 94.7,507.9M101.5,509.1Q100.2,510.1 98.5,510.0M100.3,508.5Q99.9,510.3 101.7,510.3M102.2,508.8Q102.5,509.9 103.8,509.7M105.3,507.8Q104.6,509.2 104.7,508.6M107.8,505.2Q108.2,505.1 110.2,505.4M110.2,503.9Q112.2,506.2 111.8,506.3M112.5,506.4Q112.2,507.5 111.5,508.4M115.6,508.2Q117.2,508.8 116.4,509.4M116.9,507.1Q118.3,507.5 119.1,507.2M119.5,507.4Q118.6,508.8 118.5,509.1M122.2,505.1Q120.4,505.1 119.8,505.4M122.7,506.1Q123.2,506.3 123.3,507.6M124.1,508.6Q124.6,508.6 123.9,509.6M124.4,508.8Q124.8,509.8 125.6,509.7M126.8,506.2Q125.8,507.6 125.2,507.1M128.1,506.3Q126.9,506.0 125.9,507.1M128.6,507.4Q128.9,506.9 127.4,508.2M130.0,508.6Q128.6,508.3 128.0,509.9M129.6,508.5Q129.8,509.0 130.4,509.9M130.3,509.9Q132.2,510.9 131.7,509.9M131.8,509.1Q133.6,510.9 134.2,511.0M135.3,506.6Q136.2,506.2 136.7,506.9M139.2,509.5Q139.0,510.8 136.8,510.1M139.6,508.4Q140.4,509.0 140.4,509.5M140.4,508.9Q140.4,510.9 141.6,511.0M144.9,505.4Q143.1,506.7 143.1,506.6M146.6,508.1Q147.4,507.7 149.4,508.5M148.6,507.4Q148.8,506.5 151.4,507.5M152.4,504.6Q149.9,505.3 149.6,506.0M152.4,505.8Q152.2,506.2 151.6,507.4M153.1,506.0Q153.6,506.4 152.9,507.3M154.3,505.0Q154.7,505.6 153.7,506.7M157.6,506.1Q156.8,507.4 156.4,507.8M157.8,507.5Q158.8,507.6 160.2,508.1M161.1,508.7Q161.9,508.8 162.9,510.8M169.5,507.9Q170.7,506.9 170.5,508.3M169.8,504.7Q169.8,506.3 172.2,506.2M173.1,508.8Q173.2,509.7 170.9,510.1M174.7,508.2Q173.0,509.7 173.3,509.9M177.0,506.1Q175.3,505.8 175.0,507.2M176.6,507.0Q176.7,508.0 177.4,509.5M178.0,506.6Q179.2,506.9 178.0,507.7M180.7,507.5Q180.0,508.6 179.3,509.8M184.3,505.1Q183.0,505.3 181.7,505.8M185.2,505.7Q184.5,505.6 184.8,507.0M188.9,508.3Q188.2,508.1 187.1,509.1M188.6,504.1Q188.1,504.7 189.4,506.0M190.7,509.1Q189.9,509.3 189.3,509.1M197.8,507.3Q197.3,508.2 198.2,510.4M202.3,505.5Q203.5,506.9 203.7,506.4M204.9,508.8Q205.7,508.5 205.3,510.4M205.9,508.7Q206.5,509.9 206.6,510.1M207.2,505.7Q206.5,506.9 207.3,507.7" stroke-width="1.300"/>
</g>
<path d="M92,518 L214,518" stroke="#e4e4e4" stroke-width="1.500" stroke-dasharray="7 4" fill="none"/>
<!-- copper cylinder -->
<path d="M106,456 L106,68 Q108.500,62.500 111,68 L111,456 Z" fill="#d6d6d6" stroke="#7a7a7a" stroke-width="0.900"/>
<path d="M191.300,455.500 L191.300,67.500 Q194,61 196.700,67.500 L196.700,455.500 Z" fill="#f2f2f2" stroke="#1a1a1a" stroke-width="1.300"/>
<!-- acid -->
<rect x="110.800" y="74" width="80.500" height="381" fill="#161616" filter="url(#acidf)"/>
<rect x="110.800" y="72.800" width="80.500" height="16.500" fill="#060606"/>
<rect x="106.500" y="445.500" width="89" height="10.300" fill="#060606"/>
<!-- iron rod -->
<path d="M137.400,39.500 L162.100,39.500 L164,445.800 L137.800,445.800 Z" fill="url(#dots)" stroke="#1a1a1a" stroke-width="2.400"/>
<!-- leaders -->
<g stroke="#141414" stroke-width="1.800" fill="none">
<line x1="168" y1="73.500" x2="224" y2="31.500"/>
<line x1="196.800" y1="143.100" x2="347" y2="123.600"/>
<line x1="153.500" y1="238.400" x2="162" y2="239.440"/>
<line x1="190" y1="242.870" x2="352" y2="262.700"/>
<line x1="196.800" y1="322.600" x2="352" y2="320.300"/>
<line x1="196.800" y1="451.200" x2="352" y2="448.700"/>
<line x1="224.500" y1="494.500" x2="352" y2="493.300"/>
</g>
</g>
<g filter="url(#blurt)">
<text x="231.1" y="39.1" textLength="72.9" lengthAdjust="spacingAndGlyphs">Битум</text>
<text x="313.2" y="39.1" textLength="115.1" lengthAdjust="spacingAndGlyphs">(асфальт)</text>
<text x="386.6" y="136.9" textLength="98.4" lengthAdjust="spacingAndGlyphs">Кислота</text>
<text x="384.4" y="268.9" textLength="124.6" lengthAdjust="spacingAndGlyphs">Железный</text>
<text x="519.4" y="268.9" textLength="126.4" lengthAdjust="spacingAndGlyphs">сердечник</text>
<text x="385.6" y="339.4" textLength="100.9" lengthAdjust="spacingAndGlyphs">Медный</text>
<text x="496.4" y="339.4" textLength="103.4" lengthAdjust="spacingAndGlyphs">цилиндр</text>
<text x="385.6" y="451.4" textLength="72.2" lengthAdjust="spacingAndGlyphs">Битум</text>
<text x="467.4" y="451.4" textLength="114.6" lengthAdjust="spacingAndGlyphs">(асфальт)</text>
<text x="384.9" y="500.4" textLength="124.1" lengthAdjust="spacingAndGlyphs">Глиняный</text>
<text x="518.1" y="500.4" textLength="94.2" lengthAdjust="spacingAndGlyphs">кувшин</text>
</g>
</svg>
</body></html>
